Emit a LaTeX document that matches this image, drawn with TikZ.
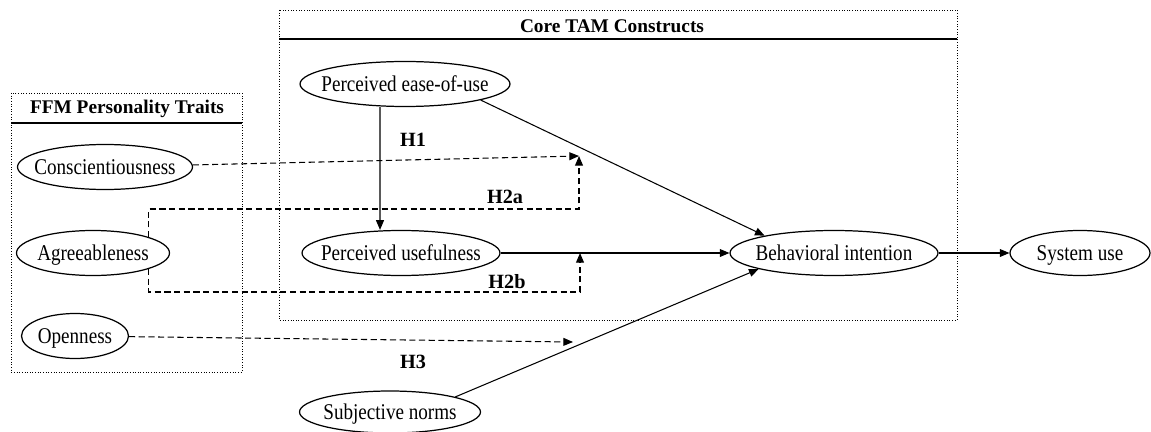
\documentclass[tikz,border=0pt]{standalone}
\usepackage{fontspec}
\setmainfont{Liberation Serif}
\newfontfamily\narrowserif[FakeStretch=0.85]{Liberation Serif}
\usetikzlibrary{shapes.geometric,arrows.meta}

\begin{document}
\begin{tikzpicture}[x=0.02cm,y=-0.02cm,
	construct/.style={ellipse,draw,line width=0.7pt,inner xsep=-1.2cm,inner ysep=0pt,minimum height=0.9cm,
		text depth=0pt,font=\narrowserif\fontsize{12.8}{14}\selectfont},
	groupbox/.style={draw,densely dotted,line width=0.5pt},
	grouptitle/.style={font=\fontsize{11}{13}\selectfont\bfseries},
	effect/.style={line width=0.6pt,-{Triangle[length=5.5pt,width=4.5pt]}},
	moderate/.style={effect,dash pattern=on 3.5pt off 2pt},
	hyp/.style={font=\fontsize{11.5}{13}\selectfont\bfseries}]
	\useasboundingbox (0,0) rectangle (1151,432);

	\draw[groupbox] (11,93) rectangle (242,372);
	\draw[line width=0.9pt] (11,123) -- (242,123);
	\node[grouptitle] (ffm) at (127,109) {FFM Personality Traits};

	\draw[groupbox] (279,10) rectangle (957,320);
	\draw[line width=0.9pt] (279,39) -- (957,39);
	\node[grouptitle] (tam) at (612,26) {Core TAM Constructs};

	\node[construct,minimum width=3.5cm] (con) at (105,167) {Conscientiousness};
	\node[construct,minimum width=3.06cm] (agr) at (93,253) {Agreeableness};
	\node[construct,minimum width=2.14cm] (opn) at (75,336) {Openness};
	\node[construct,minimum width=4.2cm] (peou) at (405,84) {Perceived ease-of-use};
	\node[construct,minimum width=3.96cm] (pu) at (401,253) {Perceived usefulness};
	\node[construct,minimum width=4.16cm] (bi) at (834,253) {Behavioral intention};
	\node[construct,minimum width=2.8cm] (su) at (1080,253) {System use};
	\node[construct,minimum width=3.62cm,minimum height=0.84cm] (sn) at (390,412) {Subjective norms};

	\coordinate (m1) at (579,156);
	\coordinate (m2) at (580,253);
	\coordinate (m3) at (573,342);

	\draw[effect] ([xshift=-0.5cm]peou.south) -- ([xshift=-0.42cm]pu.north);
	\draw[effect] (peou.-12) -- (bi.166);
	\draw[effect] (pu) -- (bi);
	\draw[effect] (sn.13) -- (bi.192);
	\draw[effect] (bi) -- (su);

	\draw[moderate] (con) -- (m1);
	\draw[moderate] (agr.16) -- ++(0,-28) -| (m1);
	\draw[moderate] (agr.-16) -- ++(0,23) -| (m2);
	\draw[moderate] (opn) -- (m3);

	\node[hyp] (h1) at (413,140) {H1};
	\node[hyp] (h2a) at (505,197) {H2a};
	\node[hyp] (h2b) at (507,282) {H2b};
	\node[hyp] (h3) at (413,362) {H3};
\end{tikzpicture}
\end{document}
